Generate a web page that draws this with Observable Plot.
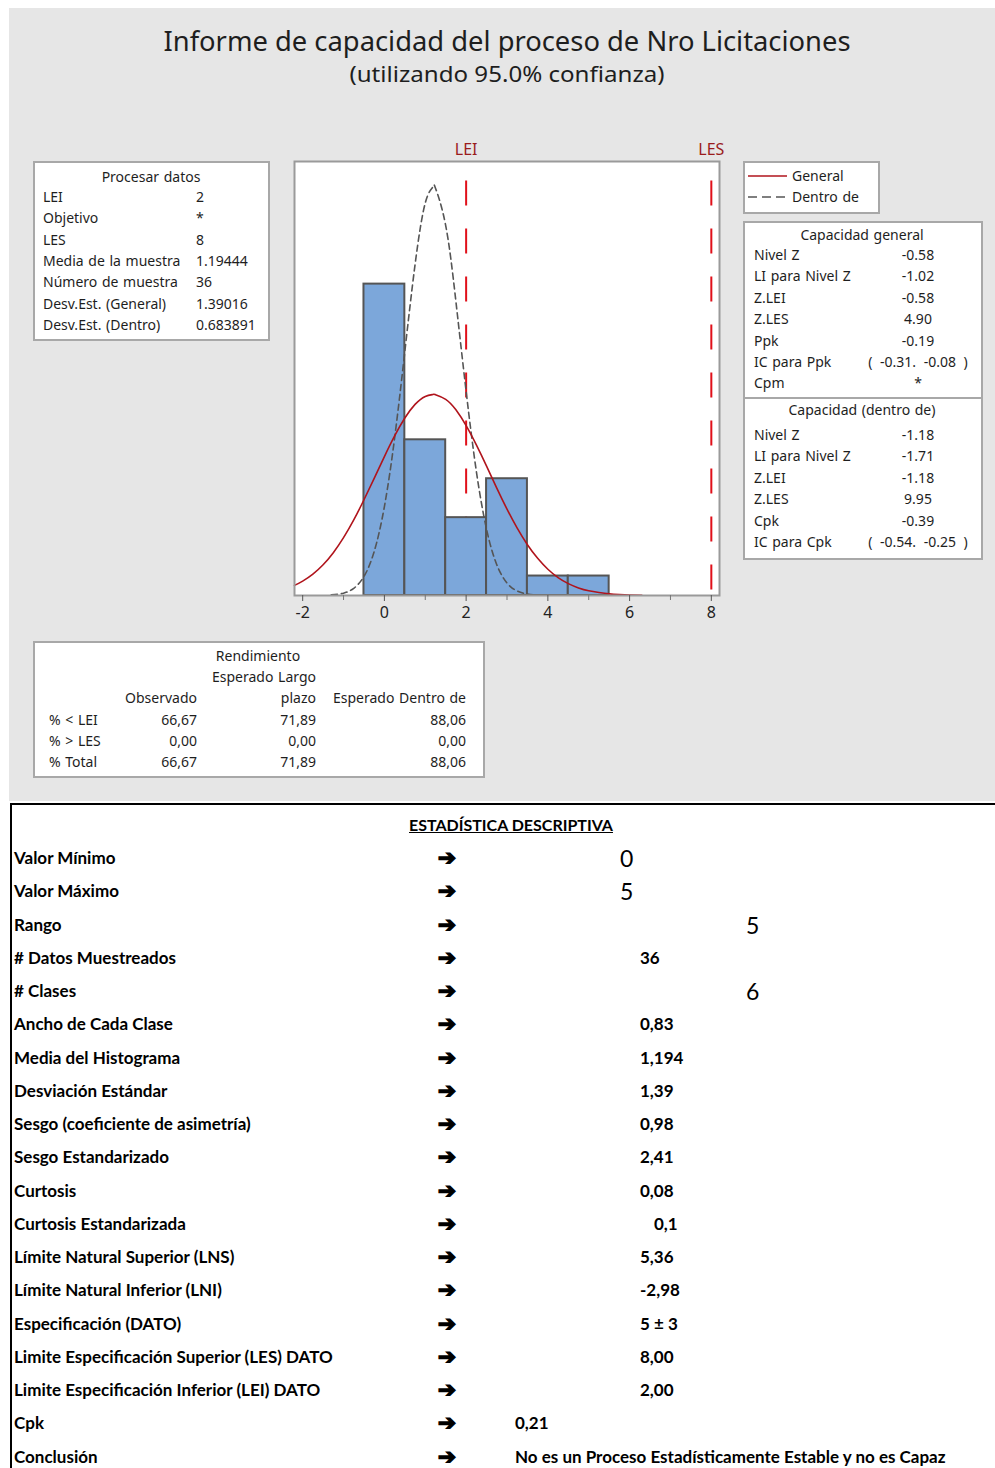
<!DOCTYPE html>
<html><head><meta charset="utf-8">
<script src="https://cdn.jsdelivr.net/npm/d3@7"></script>
<script src="https://cdn.jsdelivr.net/npm/@observablehq/plot@0.6"></script>
<style>
body{margin:0;width:995px;height:1468px;overflow:hidden;background:#fff;position:relative;font-family:"Noto Sans",sans-serif;}
#panel{position:absolute;left:9px;top:8px;width:986px;height:793px;background:#e6e6e6;}
.box{position:absolute;background:#fff;border:2px solid #a8a8a8;box-sizing:border-box;}
.t{position:absolute;white-space:nowrap;color:#1e1e1e;font-size:14px;line-height:16px;letter-spacing:0px;word-spacing:1px;}
#table{position:absolute;left:10px;top:803px;width:985px;height:665px;border-left:2px solid #000;border-top:2px solid #000;box-sizing:border-box;}
.s{position:absolute;white-space:nowrap;font-family:Lato,sans-serif;font-weight:700;font-size:17px;line-height:18px;color:#000;}
.big{font-weight:400;font-size:23px;line-height:24px;}
.arrow{position:absolute;font-family:"DejaVu Sans",sans-serif;font-weight:700;font-size:22px;line-height:18px;color:#000;-webkit-text-stroke:1.2px #000;}
#plot{position:absolute;left:280px;top:135px;}
</style>
</head><body>
<div id="panel"></div>
<svg style="position:absolute;left:0;top:0" width="995" height="100">
  <text x="507" y="51" text-anchor="middle" font-family="Noto Sans" font-size="28" fill="#1e1e1e" textLength="687" lengthAdjust="spacingAndGlyphs">Informe de capacidad del proceso de Nro Licitaciones</text>
  <text x="507" y="82" text-anchor="middle" font-family="Noto Sans" font-size="22" fill="#1e1e1e" textLength="315" lengthAdjust="spacingAndGlyphs">(utilizando 95.0% confianza)</text>
</svg>
<div id="plot"></div>
<div id="table"></div>
<script>
// ---------- DATA ----------
const binStart = [-0.5, 0.5, 1.5, 2.5, 3.5, 4.5];
const binEnd   = [0.5, 1.5, 2.5, 3.5, 4.5, 5.5];
const counts   = [16, 8, 4, 6, 1, 1];

const generalX = [-2.2,-2.0,-1.75,-1.5,-1.25,-1.0,-0.75,-0.5,-0.25,0,0.25,0.5,0.75,1.0,1.19,1.25,1.5,1.75,2.0,2.25,2.5,2.75,3.0,3.25,3.5,3.75,4.0,4.25,4.5,4.75,5.0,5.25,5.5,5.75,6.0,6.3];
const generalY = [0.52,0.74,1.10,1.58,2.20,2.97,3.88,4.92,6.02,7.14,8.20,9.12,9.82,10.23,10.33,10.32,10.08,9.54,8.73,7.74,6.65,5.52,4.44,3.46,2.61,1.91,1.35,0.92,0.61,0.39,0.24,0.15,0.085,0.048,0.026,0.012];

const withinX = [-1.3,-1.0,-0.75,-0.5,-0.25,0,0.25,0.5,0.75,1.0,1.19,1.25,1.5,1.75,2.0,2.25,2.5,2.75,3.0,3.25,3.5,3.65];
const withinY = [0.03,0.12,0.37,0.98,2.26,4.57,8.09,12.54,17.00,20.17,21.0,20.93,19.01,15.10,10.49,6.38,3.40,1.58,0.64,0.23,0.07,0.03];

const specNames  = ["LEI", "LES"];
const specValues = [2, 8];
const majorTicks = [-2, 0, 2, 4, 6, 8];
const minorTicks = [-1, 1, 3, 5, 7];

const procTitle  = "Procesar datos";
const procLabels = ["LEI","Objetivo","LES","Media de la muestra","Número de muestra","Desv.Est. (General)","Desv.Est. (Dentro)"];
const procValues = ["2","*","8","1.19444","36","1.39016","0.683891"];

const legendNames = ["General", "Dentro de"];

const capGenTitle  = "Capacidad general";
const capGenLabels = ["Nivel Z","LI para Nivel Z","Z.LEI","Z.LES","Ppk","IC para Ppk","Cpm"];
const capGenValues = ["-0.58","-1.02","-0.58","4.90","-0.19","( -0.31. -0.08 )","*"];

const capWithinTitle  = "Capacidad (dentro de)";
const capWithinLabels = ["Nivel Z","LI para Nivel Z","Z.LEI","Z.LES","Cpk","IC para Cpk"];
const capWithinValues = ["-1.18","-1.71","-1.18","9.95","-0.39","( -0.54. -0.25 )"];

const perfHeader   = ["Rendimiento","Esperado Largo"];
const perfColumns  = ["Observado","plazo","Esperado Dentro de"];
const perfRows     = ["% < LEI","% > LES","% Total"];
const perfObserved = ["66,67","0,00","66,67"];
const perfLongTerm = ["71,89","0,00","71,89"];
const perfWithin   = ["88,06","0,00","88,06"];

const statTitle  = "ESTADÍSTICA DESCRIPTIVA";
const statLabels = ["Valor Mínimo","Valor Máximo","Rango","# Datos Muestreados","# Clases","Ancho de Cada Clase","Media del Histograma","Desviación Estándar","Sesgo (coeficiente de asimetría)","Sesgo Estandarizado","Curtosis","Curtosis Estandarizada","Límite Natural Superior (LNS)","Límite Natural Inferior (LNI)","Especificación (DATO)","Limite Especificación Superior (LES) DATO","Limite Especificación Inferior (LEI) DATO","Cpk","Conclusión"];
const statValues = ["0","5","5","36","6","0,83","1,194","1,39","0,98","2,41","0,08","0,1","5,36","-2,98","5 ± 3","8,00","2,00","0,21","No es un Proceso Estadísticamente Estable y no es Capaz"];

// ---------- LAYOUT (positions / styles) ----------
const statValueX   = [620,620,746,640,746,640,640,640,640,640,640,654,640,640,640,640,640,515,515];
const statValueBig = [true,true,true,false,true,false,false,false,false,false,false,false,false,false,false,false,false,false,false];

function put(txt, x, y, cls, anchor, extra) {
  const d = document.createElement("div");
  d.className = cls; d.textContent = txt;
  d.style.left = x + "px"; d.style.top = y + "px";
  const tx = anchor === "middle" ? "-50%" : anchor === "end" ? "-100%" : "0";
  d.style.transform = `translate(${tx},-50%)`;
  if (extra) Object.assign(d.style, extra);
  document.body.appendChild(d);
  return d;
}
function box(x, y, w, h, extra) {
  const d = document.createElement("div");
  d.className = "box";
  Object.assign(d.style, {left: x + "px", top: y + "px", width: w + "px", height: h + "px"}, extra || {});
  document.body.appendChild(d);
}

// ---------- CHART ----------
const bins = binStart.map((s, i) => ({x1: s, x2: binEnd[i], n: counts[i]}));
const general = generalX.map((x, i) => ({x, y: generalY[i]}));
const within = withinX.map((x, i) => ({x, y: withinY[i]}));
const specs = specValues.map((v, i) => ({x: v, label: specNames[i]}));

const chart = Plot.plot({
  width: 460, height: 500,
  marginTop: 26, marginBottom: 40, marginLeft: 14, marginRight: 21,
  style: {background: "transparent", fontFamily: "Noto Sans", overflow: "visible"},
  x: {domain: [-2.2, 8.2]},
  y: {domain: [0, 22.3], axis: null},
  marks: [
    Plot.frame({fill: "white"}),
    Plot.ruleX(specs, {x: "x", y1: 21.3, y2: 0, stroke: "#e0101a", strokeWidth: 2, strokeDasharray: "25,23"}),
    Plot.rect(bins, {x1: "x1", x2: "x2", y1: 0, y2: "n", fill: "#7ca7da", stroke: "#555", strokeWidth: 2}),
    Plot.line(within, {x: "x", y: "y", curve: "natural", stroke: "#555", strokeWidth: 1.6, strokeDasharray: "6,4"}),
    Plot.line(general, {x: "x", y: "y", curve: "natural", stroke: "#b0141c", strokeWidth: 1.6}),
    Plot.text(specs, {x: "x", text: "label", frameAnchor: "top", lineAnchor: "middle", dy: -12, fill: "#9a1c1c", fontSize: 16, letterSpacing: -1}),
    Plot.frame({stroke: "#9a9a9a", strokeWidth: 2}),
    Plot.axisX({ticks: majorTicks, tickFormat: d => String(d), tickSize: 6, tickPadding: 5, fontSize: 16, stroke: "#555", color: "#222", label: null}),
    Plot.axisX({ticks: minorTicks, tickFormat: () => "", tickSize: 5, stroke: "#777", label: null})
  ]
});
document.getElementById("plot").appendChild(chart);

// ---------- Procesar datos ----------
box(33, 161, 237, 180);
put(procTitle, 151, 177, "t", "middle");
procLabels.forEach((l, i) => {
  const y = 197 + i * 21.3;
  put(l, 43, y, "t", "start");
  put(procValues[i], 196, y, "t", "start");
});

// ---------- Legend ----------
box(743, 161, 137, 53);
const lg = document.createElementNS("http://www.w3.org/2000/svg", "svg");
lg.setAttribute("width", "50"); lg.setAttribute("height", "40");
Object.assign(lg.style, {position: "absolute", left: "745px", top: "165px"});
lg.innerHTML = '<line x1="3" x2="42" y1="11" y2="11" stroke="#b0141c" stroke-width="1.6"/>' +
               '<line x1="3" x2="42" y1="32" y2="32" stroke="#555" stroke-width="1.6" stroke-dasharray="9,5"/>';
document.body.appendChild(lg);
legendNames.forEach((n, i) => put(n, 792, 176 + i * 21, "t", "start"));

// ---------- Capacidad general ----------
box(743, 221, 240, 178);
put(capGenTitle, 862, 235, "t", "middle");
capGenLabels.forEach((l, i) => {
  const y = 255 + i * 21.4;
  put(l, 754, y, "t", "start");
  put(capGenValues[i], 918, y, "t", "middle", {wordSpacing: "4px"});
});
box(743, 397, 240, 163);
put(capWithinTitle, 862, 410, "t", "middle");
capWithinLabels.forEach((l, i) => {
  const y = 435 + i * 21.4;
  put(l, 754, y, "t", "start");
  put(capWithinValues[i], 918, y, "t", "middle", {wordSpacing: "4px"});
});

// ---------- Rendimiento ----------
box(33, 641, 452, 137);
put(perfHeader[0], 258, 656, "t", "middle");
put(perfHeader[1], 264, 677, "t", "middle");
const perfX = [197, 316, 466];
perfColumns.forEach((c, i) => put(c, perfX[i], 698, "t", "end"));
perfRows.forEach((r, i) => {
  const y = 720 + i * 21;
  put(r, 49, y, "t", "start");
  put(perfObserved[i], perfX[0], y, "t", "end");
  put(perfLongTerm[i], perfX[1], y, "t", "end");
  put(perfWithin[i], perfX[2], y, "t", "end");
});

// ---------- Estadística descriptiva ----------
put(statTitle, 511, 825, "s", "middle", {textDecoration: "underline", fontSize: "16px"});
statLabels.forEach((l, i) => {
  const y = 858 + i * 33.25;
  put(l, 14, y, "s", "start");
  put("➔", 447, y, "arrow", "middle");
  put(statValues[i], statValueX[i], y, statValueBig[i] ? "s big" : "s", "start");
});
</script>
</body></html>
